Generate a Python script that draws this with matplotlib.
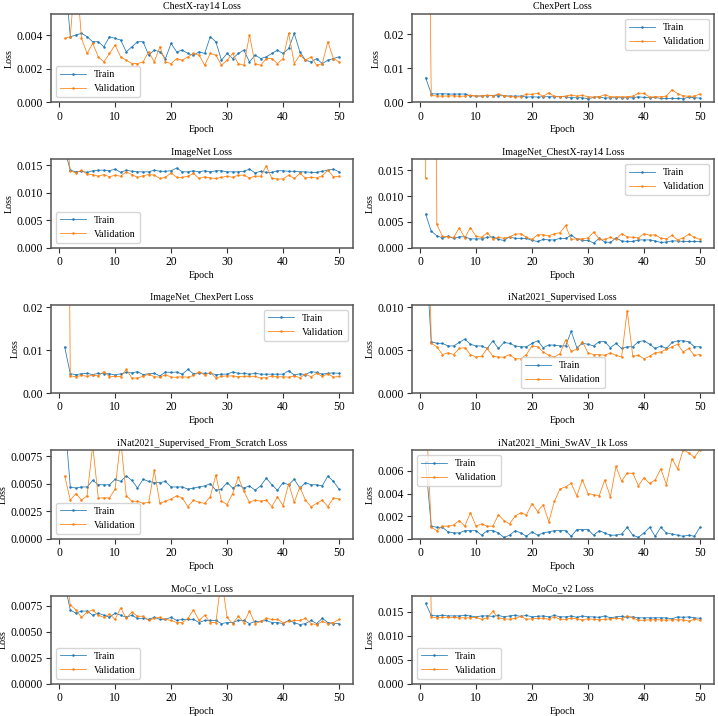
import matplotlib
matplotlib.use("Agg")
import matplotlib.pyplot as plt
from matplotlib.ticker import MultipleLocator
import numpy as np

plt.rcParams['font.family'] = ['Liberation Serif', 'DejaVu Serif']
plt.rcParams['font.size'] = 7.1

epochs = list(range(1, 51))

titles = ["ChestX-ray14 Loss", "ChexPert Loss", "ImageNet Loss", "ImageNet_ChestX-ray14 Loss",
          "ImageNet_ChexPert Loss", "iNat2021_Supervised Loss", "iNat2021_Supervised_From_Scratch Loss",
          "iNat2021_Mini_SwAV_1k Loss", "MoCo_v1 Loss", "MoCo_v2 Loss"]

chestxray14_train = [0.0078, 0.0039, 0.0040, 0.0041, 0.0039, 0.0036, 0.0036, 0.0033, 0.0039, 0.0038,
                     0.0037, 0.0030, 0.0033, 0.0036, 0.0036, 0.0028, 0.0031, 0.0030, 0.0026, 0.0035,
                     0.0030, 0.0031, 0.0029, 0.0028, 0.0030, 0.0029, 0.0039, 0.0036, 0.0025, 0.0029,
                     0.0026, 0.0029, 0.0031, 0.0024, 0.0028, 0.0026, 0.0027, 0.0029, 0.0031, 0.0029,
                     0.0032, 0.0041, 0.0030, 0.0025, 0.0024, 0.0026, 0.0023, 0.0025, 0.0026, 0.0027]
chestxray14_val = [0.0038, 0.0039, 0.0081, 0.0038, 0.0029, 0.0035, 0.0027, 0.0024, 0.0029, 0.0034,
                   0.0027, 0.0025, 0.0023, 0.0023, 0.0024, 0.0030, 0.0024, 0.0033, 0.0024, 0.0023,
                   0.0026, 0.0025, 0.0027, 0.0029, 0.0028, 0.0022, 0.0029, 0.0028, 0.0022, 0.0025,
                   0.0029, 0.0023, 0.0022, 0.0040, 0.0023, 0.0022, 0.0026, 0.0026, 0.0023, 0.0026,
                   0.0041, 0.0023, 0.0028, 0.0025, 0.0027, 0.0022, 0.0023, 0.0036, 0.0026, 0.0024]

chexpert_train = [0.0072, 0.0025, 0.0024, 0.0025, 0.0024, 0.0024, 0.0024, 0.0024, 0.0019, 0.0018,
                  0.0018, 0.0019, 0.0019, 0.0019, 0.0019, 0.0018, 0.0018, 0.0018, 0.0015, 0.0016,
                  0.0015, 0.0016, 0.0016, 0.0016, 0.0016, 0.0016, 0.0013, 0.0013, 0.0013, 0.0010,
                  0.0014, 0.0016, 0.0012, 0.0013, 0.0013, 0.0013, 0.0013, 0.0013, 0.0016, 0.0014,
                  0.0013, 0.0014, 0.0011, 0.0011, 0.0011, 0.0011, 0.0010, 0.0015, 0.0013, 0.0012]
chexpert_val = [0.16, 0.0020, 0.0018, 0.0018, 0.0018, 0.0019, 0.0017, 0.0018, 0.0020, 0.0018,
                0.0019, 0.0020, 0.0019, 0.0024, 0.0019, 0.0017, 0.0015, 0.0016, 0.0024, 0.0023,
                0.0026, 0.0017, 0.0028, 0.0017, 0.0016, 0.0018, 0.0021, 0.0018, 0.0020, 0.0016,
                0.0015, 0.0016, 0.0022, 0.0016, 0.0016, 0.0016, 0.0016, 0.0018, 0.0026, 0.0026,
                0.0015, 0.0016, 0.0016, 0.0018, 0.0037, 0.0025, 0.0019, 0.0017, 0.0018, 0.0024]

imagenet_train = [0.0178, 0.0141, 0.0138, 0.0139, 0.0137, 0.0140, 0.0141, 0.0141, 0.0140, 0.0143,
                  0.0137, 0.0141, 0.0139, 0.0138, 0.0138, 0.0138, 0.0141, 0.0139, 0.0139, 0.0140,
                  0.0145, 0.0138, 0.0138, 0.0140, 0.0138, 0.0140, 0.0138, 0.0140, 0.0140, 0.0138,
                  0.0138, 0.0138, 0.0139, 0.0143, 0.0136, 0.0139, 0.0137, 0.0137, 0.0140, 0.0140,
                  0.0139, 0.0139, 0.0138, 0.0138, 0.0137, 0.0137, 0.0139, 0.0141, 0.0143, 0.0138]
imagenet_val = [0.0229, 0.0140, 0.0136, 0.0141, 0.0134, 0.0133, 0.0130, 0.0133, 0.0129, 0.0132,
                0.0130, 0.0138, 0.0133, 0.0128, 0.0131, 0.0133, 0.0132, 0.0126, 0.0128, 0.0136,
                0.0128, 0.0128, 0.0130, 0.0135, 0.0126, 0.0129, 0.0127, 0.0126, 0.0128, 0.0130,
                0.0128, 0.0132, 0.0132, 0.0127, 0.0130, 0.0130, 0.0149, 0.0126, 0.0125, 0.0125,
                0.0132, 0.0126, 0.0135, 0.0127, 0.0128, 0.0127, 0.0131, 0.0141, 0.0129, 0.0130]

imagenet_chestxray14_train = [0.0065, 0.0032, 0.0023, 0.0019, 0.0022, 0.0018, 0.0021, 0.0021, 0.0017, 0.0017,
                              0.0017, 0.0020, 0.0021, 0.0016, 0.0014, 0.0021, 0.0018, 0.0018, 0.0018, 0.0014,
                              0.0012, 0.0016, 0.0015, 0.0015, 0.0018, 0.0018, 0.0024, 0.0017, 0.0014, 0.0014,
                              0.0009, 0.0018, 0.0011, 0.0010, 0.0019, 0.0013, 0.0012, 0.0012, 0.0015, 0.0015,
                              0.0015, 0.0013, 0.0010, 0.0011, 0.0013, 0.0013, 0.0012, 0.0012, 0.0012, 0.0012]
imagenet_chestxray14_val = [0.0135, 0.25, 0.0045, 0.0022, 0.0021, 0.0020, 0.0038, 0.0019, 0.0039, 0.0022,
                            0.0020, 0.0029, 0.0017, 0.0020, 0.0018, 0.0021, 0.0026, 0.0027, 0.0020, 0.0016,
                            0.0025, 0.0025, 0.0023, 0.0027, 0.0029, 0.0043, 0.0016, 0.0017, 0.0017, 0.0019,
                            0.0030, 0.0017, 0.0016, 0.0020, 0.0016, 0.0027, 0.0021, 0.0020, 0.0019, 0.0027,
                            0.0024, 0.0025, 0.0018, 0.0017, 0.0024, 0.0015, 0.0019, 0.0026, 0.0020, 0.0016]

imagenet_chexpert_train = [0.0107, 0.0045, 0.0043, 0.0045, 0.0046, 0.0043, 0.0046, 0.0045, 0.0045, 0.0042,
                           0.0045, 0.0048, 0.0047, 0.0050, 0.0043, 0.0045, 0.0046, 0.0040, 0.0049, 0.0048,
                           0.0049, 0.0044, 0.0055, 0.0045, 0.0047, 0.0046, 0.0046, 0.0043, 0.0044, 0.0044,
                           0.0049, 0.0046, 0.0046, 0.0044, 0.0046, 0.0044, 0.0044, 0.0044, 0.0044, 0.0044,
                           0.0052, 0.0042, 0.0045, 0.0043, 0.0050, 0.0048, 0.0044, 0.0046, 0.0047, 0.0046]
imagenet_chexpert_val = [0.169, 0.0040, 0.0038, 0.0041, 0.0039, 0.0042, 0.0040, 0.0050, 0.0038, 0.0039,
                         0.0038, 0.0055, 0.0035, 0.0035, 0.0039, 0.0044, 0.0038, 0.0037, 0.0043, 0.0037,
                         0.0037, 0.0038, 0.0037, 0.0041, 0.0050, 0.0042, 0.0048, 0.0035, 0.0039, 0.0040,
                         0.0040, 0.0038, 0.0039, 0.0039, 0.0039, 0.0035, 0.0036, 0.0040, 0.0038, 0.0038,
                         0.0037, 0.0040, 0.0036, 0.0044, 0.0038, 0.0046, 0.0039, 0.0045, 0.0037, 0.0039]

inat_supervised_train = [0.0167, 0.0060, 0.0058, 0.0058, 0.0055, 0.0055, 0.0059, 0.0063, 0.0057, 0.0055,
                         0.0055, 0.0052, 0.0061, 0.0052, 0.0059, 0.0058, 0.0055, 0.0054, 0.0054, 0.0058,
                         0.0061, 0.0053, 0.0056, 0.0056, 0.0055, 0.0055, 0.0072, 0.0053, 0.0058, 0.0057,
                         0.0055, 0.0060, 0.0060, 0.0053, 0.0058, 0.0052, 0.0054, 0.0054, 0.0060, 0.0061,
                         0.0057, 0.0052, 0.0055, 0.0052, 0.0059, 0.0061, 0.0061, 0.0060, 0.0054, 0.0054]
inat_supervised_val = [0.043, 0.0058, 0.0054, 0.0045, 0.0047, 0.0045, 0.0052, 0.0053, 0.0045, 0.0042,
                       0.0043, 0.0052, 0.0043, 0.0042, 0.0042, 0.0045, 0.0040, 0.0040, 0.0045, 0.0055,
                       0.0054, 0.0048, 0.0044, 0.0042, 0.0046, 0.0062, 0.0049, 0.0051, 0.0060, 0.0047,
                       0.0045, 0.0045, 0.0044, 0.0047, 0.0044, 0.0042, 0.0096, 0.0043, 0.0044, 0.0040,
                       0.0043, 0.0047, 0.0048, 0.0051, 0.0054, 0.0057, 0.0048, 0.0052, 0.0044, 0.0045]

inat_scratch_train = [0.0110, 0.0047, 0.0046, 0.0047, 0.0047, 0.0053, 0.0049, 0.0049, 0.0049, 0.0054,
                      0.0052, 0.0057, 0.0053, 0.0046, 0.0054, 0.0052, 0.0051, 0.0051, 0.0052, 0.0047,
                      0.0047, 0.0047, 0.0045, 0.0046, 0.0047, 0.0048, 0.0050, 0.0044, 0.0045, 0.0051,
                      0.0046, 0.0049, 0.0046, 0.0048, 0.0044, 0.0048, 0.0055, 0.0049, 0.0044, 0.0051,
                      0.0049, 0.0054, 0.0046, 0.0051, 0.0049, 0.0049, 0.0048, 0.0057, 0.0052, 0.0045]
inat_scratch_val = [0.0057, 0.0035, 0.0041, 0.0035, 0.0039, 0.0085, 0.0037, 0.0037, 0.0037, 0.0045,
                    0.0090, 0.0039, 0.0034, 0.0034, 0.0032, 0.0033, 0.0062, 0.0032, 0.0034, 0.0036,
                    0.0039, 0.0037, 0.0029, 0.0035, 0.0033, 0.0032, 0.0038, 0.0058, 0.0034, 0.0031,
                    0.0041, 0.0056, 0.0043, 0.0033, 0.0035, 0.0034, 0.0035, 0.0029, 0.0038, 0.0030,
                    0.0050, 0.0033, 0.0047, 0.0035, 0.0029, 0.0032, 0.0035, 0.0029, 0.0037, 0.0036]

inat_swav_train = [0.0068, 0.0011, 0.0010, 0.0010, 0.0006, 0.0005, 0.0005, 0.0007, 0.0007, 0.0007,
                   0.0003, 0.0007, 0.0007, 0.0005, 0.0001, 0.0003, 0.0007, 0.0005, 0.0002, 0.0006,
                   0.0003, 0.0005, 0.0006, 0.0007, 0.0007, 0.0007, 0.0002, 0.0008, 0.0008, 0.0008,
                   0.0003, 0.0007, 0.0005, 0.0003, 0.0003, 0.0004, 0.0010, 0.0003, 0.0001, 0.0005,
                   0.0010, 0.0002, 0.0010, 0.0005, 0.0004, 0.0003, 0.0002, 0.0003, 0.0002, 0.0010]
inat_swav_val = [0.0120, 0.0010, 0.0007, 0.0011, 0.0011, 0.0012, 0.0016, 0.0011, 0.0023, 0.0011,
                 0.0013, 0.0011, 0.0011, 0.0021, 0.0016, 0.0013, 0.0020, 0.0023, 0.0021, 0.0031,
                 0.0024, 0.0030, 0.0015, 0.0033, 0.0044, 0.0046, 0.0049, 0.0038, 0.0052, 0.0040,
                 0.0039, 0.0038, 0.0052, 0.0037, 0.0064, 0.0051, 0.0058, 0.0058, 0.0047, 0.0054,
                 0.0049, 0.0052, 0.0062, 0.0048, 0.0071, 0.0062, 0.0079, 0.0076, 0.0072, 0.0079]

moco_v1_train = [0.0096, 0.0071, 0.0068, 0.0070, 0.0070, 0.0066, 0.0068, 0.0066, 0.0064, 0.0068,
                 0.0066, 0.0064, 0.0066, 0.0063, 0.0063, 0.0062, 0.0064, 0.0062, 0.0062, 0.0064,
                 0.0061, 0.0062, 0.0062, 0.0062, 0.0059, 0.0061, 0.0061, 0.0061, 0.0058, 0.0059,
                 0.0059, 0.0061, 0.0061, 0.0058, 0.0060, 0.0060, 0.0061, 0.0059, 0.0059, 0.0058,
                 0.0061, 0.0059, 0.0057, 0.0058, 0.0061, 0.0058, 0.0063, 0.0059, 0.0058, 0.0058]
moco_v1_val = [0.0113, 0.0076, 0.0071, 0.0064, 0.0069, 0.0071, 0.0066, 0.0064, 0.0067, 0.0062,
               0.0073, 0.0063, 0.0069, 0.0065, 0.0065, 0.0061, 0.0063, 0.0064, 0.0062, 0.0061,
               0.0059, 0.0059, 0.0063, 0.0071, 0.0061, 0.0066, 0.0059, 0.0059, 0.0102, 0.0064,
               0.0058, 0.0065, 0.0059, 0.0070, 0.0058, 0.0060, 0.0063, 0.0062, 0.0062, 0.0059,
               0.0060, 0.0061, 0.0061, 0.0063, 0.0058, 0.0057, 0.0060, 0.0058, 0.0059, 0.0062]

moco_v2_train = [0.0167, 0.0142, 0.0141, 0.0142, 0.0141, 0.0141, 0.0141, 0.0142, 0.0141, 0.0139,
                 0.0141, 0.0141, 0.0140, 0.0142, 0.0139, 0.0141, 0.0142, 0.0140, 0.0142, 0.0139,
                 0.0140, 0.0141, 0.0139, 0.0142, 0.0139, 0.0139, 0.0141, 0.0138, 0.0141, 0.0139,
                 0.0139, 0.0138, 0.0141, 0.0137, 0.0139, 0.0140, 0.0138, 0.0139, 0.0137, 0.0137,
                 0.0137, 0.0137, 0.0137, 0.0137, 0.0135, 0.0139, 0.0138, 0.0139, 0.0137, 0.0136]
moco_v2_val = [0.1, 0.0139, 0.0137, 0.0138, 0.0138, 0.0138, 0.0137, 0.0137, 0.0137, 0.0138,
               0.0134, 0.0137, 0.0151, 0.0137, 0.0135, 0.0134, 0.0136, 0.0140, 0.0134, 0.0135,
               0.0136, 0.0136, 0.0134, 0.0139, 0.0134, 0.0134, 0.0136, 0.0135, 0.0133, 0.0135,
               0.0134, 0.0133, 0.0134, 0.0135, 0.0136, 0.0135, 0.0141, 0.0137, 0.0132, 0.0132,
               0.0133, 0.0133, 0.0133, 0.0132, 0.0133, 0.0133, 0.0133, 0.0130, 0.0134, 0.0132]

train_series = [chestxray14_train, chexpert_train, imagenet_train, imagenet_chestxray14_train,
                imagenet_chexpert_train, inat_supervised_train, inat_scratch_train, inat_swav_train,
                moco_v1_train, moco_v2_train]
val_series = [chestxray14_val, chexpert_val, imagenet_val, imagenet_chestxray14_val,
              imagenet_chexpert_val, inat_supervised_val, inat_scratch_val, inat_swav_val,
              moco_v1_val, moco_v2_val]

y_tops = [0.00525, 0.0259, 0.01605, 0.0171, 0.0205, 0.01028, 0.00803, 0.00783, 0.00846, 0.01825]
y_steps = [0.002, 0.01, 0.005, 0.005, 0.01, 0.005, 0.0025, 0.002, 0.0025, 0.005]
legend_locs = ['lower left', 'upper right', 'lower left', 'upper right', 'upper right',
               'lower center', 'lower left', 'upper left', 'lower left', 'lower left']

fig, axes = plt.subplots(5, 2, figsize=(7.18, 7.16), dpi=100)
fig.subplots_adjust(left=0.071, right=0.994, bottom=0.0447, top=0.9804, wspace=0.196, hspace=0.65)

for ax, title, tr, va, top, step, loc in zip(axes.flat, titles, train_series, val_series,
                                              y_tops, y_steps, legend_locs):
    ax.plot(epochs, tr, marker='.', markersize=1.6, linewidth=0.55, color='tab:blue', label='Train')
    ax.plot(epochs, va, marker='.', markersize=1.6, linewidth=0.55, color='tab:orange', label='Validation')
    ax.yaxis.set_major_locator(MultipleLocator(step))
    ax.set_ylim(0, top)
    ax.set_title(title, fontsize=7.2, pad=3.5)
    ax.set_xlabel('Epoch', fontsize=7.3, labelpad=2)
    ax.set_ylabel('Loss', fontsize=7.3, labelpad=2)
    ax.set_xticks([0, 10, 20, 30, 40, 50])
    ax.tick_params(labelsize=8.4, width=0.8, length=3.5, pad=2.5, color='#333333')
    for sp in ax.spines.values():
        sp.set_linewidth(1.1)
        sp.set_color('#555555')
    ax.legend(loc=loc, fontsize=7.2, handlelength=2.6)

fig.savefig('out.png', dpi=100)
